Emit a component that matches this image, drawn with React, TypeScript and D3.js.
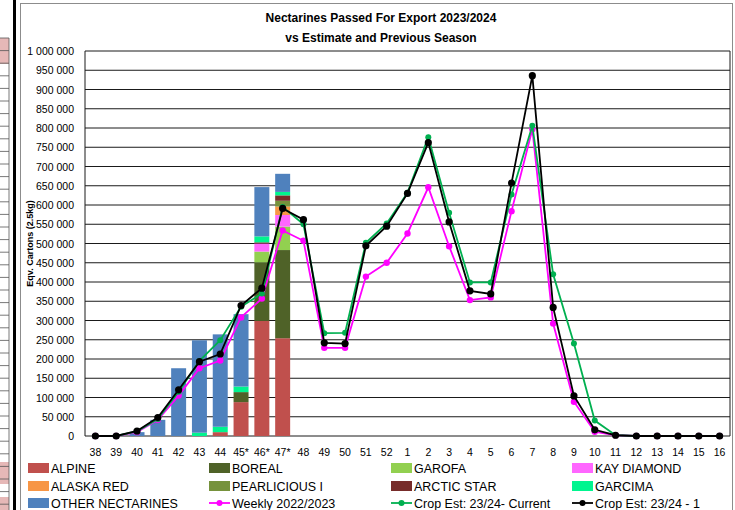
import React from "react";
import * as d3 from "d3";

const weeks = ["38","39","40","41","42","43","44","45*","46*","47*","48","49","50","51","52","1","2","3","4","5","6","7","8","9","10","11","12","13","14","15","16"];

const z21 = Array(21).fill(0);
const alpine      = [0,0,0,0,0,0,10000,88000,299000,254000, ...z21];
const boreal      = [0,0,0,0,0,0,0,26000,152000,229000, ...z21];
const garofa      = [0,0,0,0,0,0,0,0,28000,61000, ...z21];
const kayDiamond  = [0,0,0,0,0,0,0,0,21000,30000, ...z21];
const alaskaRed   = [0,0,0,0,0,0,0,0,0,22000, ...z21];
const pearlicious = [0,0,0,0,0,0,0,0,0,15000, ...z21];
const arcticStar  = [0,0,0,0,0,0,0,0,3000,14000, ...z21];
const garcima     = [0,0,0,0,0,8600,14000,14500,15500,9000, ...z21];
const otherNect   = [0,0,10000,42000,176000,240000,240000,188000,128000,47000, ...z21];

const weekly2223  = [0,0,10000,42000,105000,176000,196000,308000,357000,534000,507000,229000,229000,414000,450000,526000,646000,493000,353000,360000,584000,797000,292000,89000,11000,2000,0,0,0,0,0];
const cropCurrent = [0,0,12000,44000,115000,195000,249000,336000,370000,595000,550000,267000,268000,502000,552000,632000,776000,580000,399000,399000,627000,806000,420000,240000,40000,2000,0,0,0,0,0];
const cropPrev    = [0,0,13000,48000,120000,193000,213000,339000,384000,591000,562000,242000,240000,494000,545000,630000,762000,556000,377000,369000,657000,936000,334000,104000,16000,2000,0,0,0,0,0];

const yTicks = d3.range(0, 1000001, 50000);

const barSeries = [
  { name: "ALPINE", values: alpine, color: "#C0504D" },
  { name: "BOREAL", values: boreal, color: "#4F6228" },
  { name: "GAROFA", values: garofa, color: "#92D050" },
  { name: "KAY DIAMOND", values: kayDiamond, color: "#FF66FF" },
  { name: "ALASKA RED", values: alaskaRed, color: "#F79646" },
  { name: "PEARLICIOUS I", values: pearlicious, color: "#76923C" },
  { name: "ARCTIC STAR", values: arcticStar, color: "#772C2A" },
  { name: "GARCIMA", values: garcima, color: "#00F58F" },
  { name: "OTHER NECTARINES", values: otherNect, color: "#4F81BD" },
];

const lineSeries = [
  { name: "Weekly 2022/2023", values: weekly2223, color: "#FF00FF", r: 3.2 },
  { name: "Crop Est: 23/24- Current", values: cropCurrent, color: "#00B050", r: 3 },
  { name: "Crop Est: 23/24 - 1", values: cropPrev, color: "#000000", r: 3.6 },
];

const W = 735, H = 510;
const L = 85, R = 730, T = 51, B = 436;
const FONT = "'Liberation Sans', Arial, sans-serif";

export default function App() {
  const x = d3.scaleBand<string>().domain(weeks).range([L, R]).paddingInner(0.28).paddingOuter(0.14);
  const y = d3.scaleLinear().domain([0, 1000000]).range([B, T]);
  const cx = (w: string) => (x(w) as number) + x.bandwidth() / 2;
  const fmt = (v: number) => d3.format(",")(v).replace(/,/g, " ");

  const table = weeks.map((w, i) => {
    const o: any = { week: w };
    barSeries.forEach((s) => (o[s.name] = s.values[i]));
    return o;
  });
  const stack = d3.stack<any>().keys(barSeries.map((s) => s.name))(table);

  const line = d3.line<number>().x((_, i) => cx(weeks[i])).y((v) => y(v));

  // legend layout
  const colX = [28, 209, 391, 572];
  const rowY = [468, 486, 503];
  const legendItems = [
    ...barSeries.slice(0, 8).map((s) => ({ kind: "bar", ...s })),
  ];
  const legendOrder: any[] = [
    { kind: "bar", ...barSeries[0] }, { kind: "bar", ...barSeries[1] }, { kind: "bar", ...barSeries[2] }, { kind: "bar", ...barSeries[3] },
    { kind: "bar", ...barSeries[4] }, { kind: "bar", ...barSeries[5] }, { kind: "bar", ...barSeries[6] }, { kind: "bar", ...barSeries[7] },
    { kind: "bar", ...barSeries[8] }, { kind: "line", ...lineSeries[0] }, { kind: "line", ...lineSeries[1] }, { kind: "line", ...lineSeries[2] },
  ];
  void legendItems;

  // left spreadsheet strip
  const stripRows = d3.range(38, 510, 12.6);

  return (
    <svg width={W} height={H} style={{ position: "absolute", left: 0, top: 0, background: "#fff" }} fontFamily={FONT}>
      <rect x={0} y={0} width={W} height={H} fill="#fff" />
      {/* spreadsheet strip on the left */}
      <rect x={0} y={38} width={9} height={26} fill="#E6B8B7" />
      <rect x={0} y={462} width={9} height={22} fill="#E6B8B7" />
      <rect x={0} y={497} width={9} height={13} fill="#E6B8B7" />
      {stripRows.map((r, i) => (
        <line key={i} x1={0} x2={9} y1={r} y2={r} stroke="#555" strokeWidth={0.8} />
      ))}
      <line x1={9} x2={9} y1={38} y2={510} stroke="#555" strokeWidth={0.8} />
      <line x1={14.5} x2={14.5} y1={0} y2={510} stroke="#000" strokeWidth={3} />
      <rect x={20.5} y={3.5} width={712} height={520} fill="#fff" stroke="#8c8c8c" strokeWidth={1} />

      {/* title */}
      <text x={381} y={22} textAnchor="middle" fontWeight="bold" fontSize={12}>Nectarines Passed For Export 2023/2024</text>
      <text x={381} y={42} textAnchor="middle" fontWeight="bold" fontSize={12}>vs Estimate and Previous Season</text>

      {/* gridlines */}
      {yTicks.map((t) => (
        <line key={t} x1={L} x2={R} y1={y(t)} y2={y(t)} stroke="#1a1a1a" strokeWidth={1} />
      ))}
      <line x1={R} x2={R} y1={T} y2={B} stroke="#1a1a1a" strokeWidth={1} />
      <line x1={L} x2={L} y1={T} y2={B} stroke="#1a1a1a" strokeWidth={1} />

      {yTicks.map((t) => (
        <text key={t} x={74} y={y(t) + 4} textAnchor="end" fontSize={10.5}>{fmt(t)}</text>
      ))}
      <text transform={`translate(33, ${(T + B) / 2}) rotate(-90)`} textAnchor="middle" fontWeight="bold" fontSize={9}>Eqv. Cartons (2.5kg)</text>

      {weeks.map((w) => (
        <text key={w} x={cx(w)} y={456} textAnchor="middle" fontSize={10.5}>{w}</text>
      ))}

      {/* stacked bars */}
      {stack.map((layer, li) => (
        <g key={layer.key} fill={barSeries[li].color}>
          {layer.map((d, i) =>
            d[1] - d[0] > 0 ? (
              <rect key={i} x={x(weeks[i])} width={x.bandwidth()} y={y(d[1])} height={y(d[0]) - y(d[1])} />
            ) : null
          )}
        </g>
      ))}

      {/* lines */}
      {lineSeries.map((s) => (
        <g key={s.name}>
          <path d={line(s.values) || ""} fill="none" stroke={s.color} strokeWidth={1.8} />
          {s.values.map((v, i) => (
            <circle key={i} cx={cx(weeks[i])} cy={y(v)} r={s.r} fill={s.color} />
          ))}
        </g>
      ))}

      {/* legend */}
      {legendOrder.map((it, i) => {
        const lx = colX[i % 4];
        const ly = rowY[Math.floor(i / 4)];
        return (
          <g key={it.name}>
            {it.kind === "bar" ? (
              <rect x={lx} y={ly - 5} width={21} height={10} fill={it.color} />
            ) : (
              <g>
                <line x1={lx} x2={lx + 21} y1={ly} y2={ly} stroke={it.color} strokeWidth={1.8} />
                <circle cx={lx + 10.5} cy={ly} r={3} fill={it.color} />
              </g>
            )}
            <text x={lx + 23} y={ly + 4.5} fontSize={12.5}>{it.name}</text>
          </g>
        );
      })}
    </svg>
  );
}
